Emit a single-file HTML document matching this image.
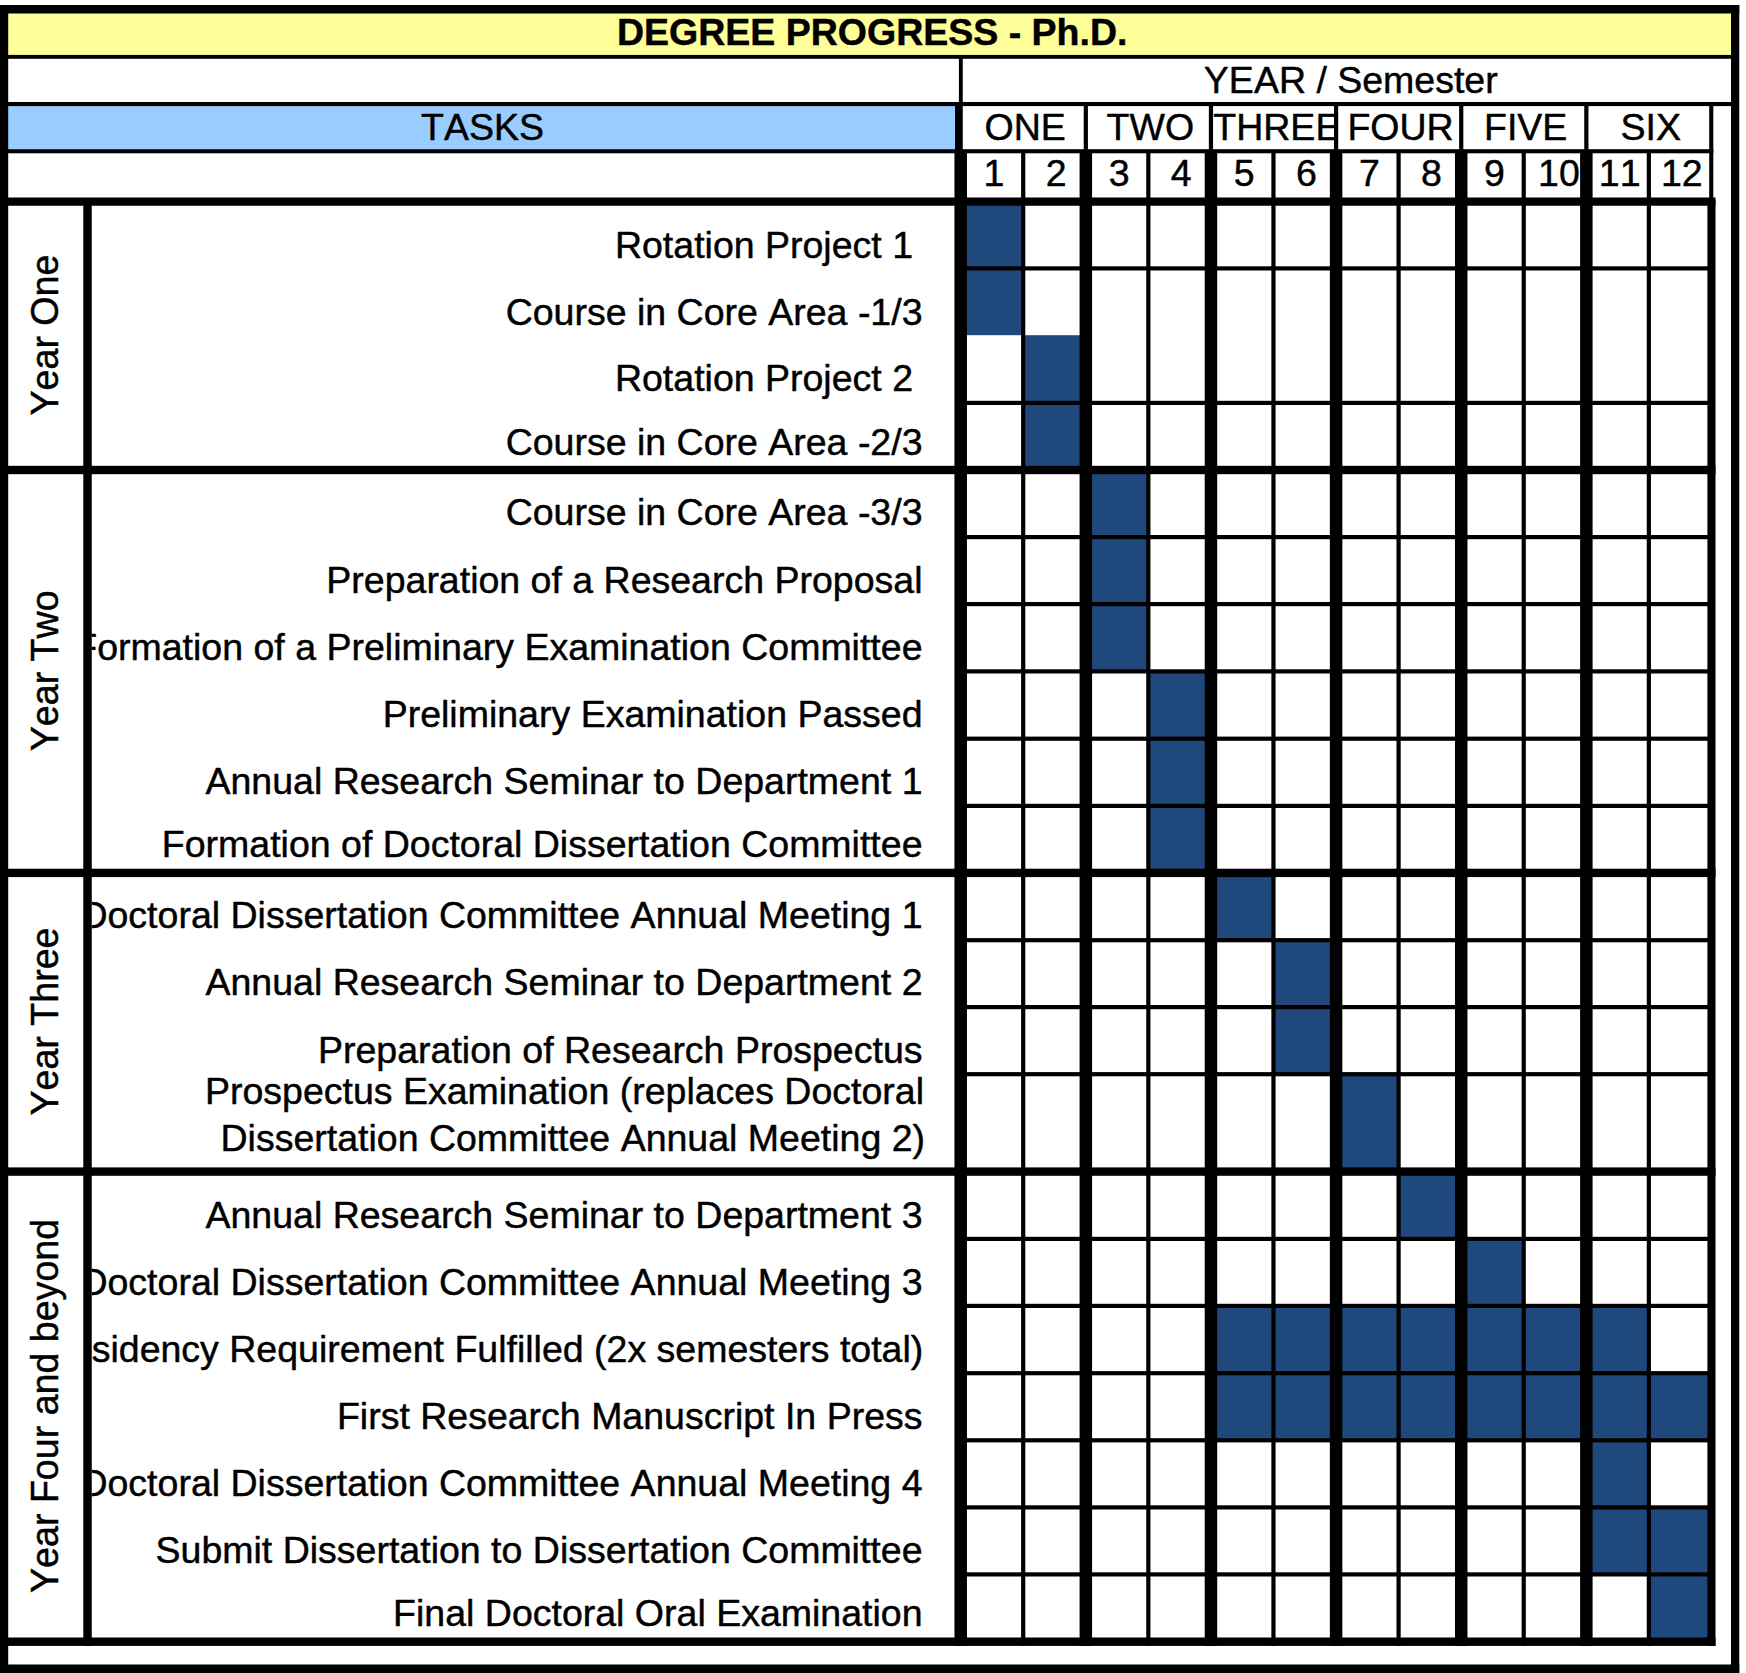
<!DOCTYPE html>
<html><head><meta charset="utf-8"><title>Degree Progress - Ph.D.</title>
<style>html,body{margin:0;padding:0;background:#fff}svg{display:block}</style></head>
<body><svg width="1746" height="1673" viewBox="0 0 1746 1673">
<rect width="1746" height="1673" fill="#fff"/>
<rect x="8.00" y="13.50" width="1723.00" height="41.50" fill="#FFFF99"/>
<rect x="8.00" y="106.00" width="947.00" height="43.20" fill="#99CCFF"/>
<rect x="965.95" y="201.60" width="56.15" height="66.80" fill="#1F497D"/>
<rect x="965.95" y="268.40" width="56.15" height="66.80" fill="#1F497D"/>
<rect x="1024.30" y="335.20" width="56.28" height="67.70" fill="#1F497D"/>
<rect x="1024.30" y="402.90" width="56.28" height="67.10" fill="#1F497D"/>
<rect x="1091.08" y="470.00" width="56.15" height="67.10" fill="#1F497D"/>
<rect x="1091.08" y="537.10" width="56.15" height="67.00" fill="#1F497D"/>
<rect x="1091.08" y="604.10" width="56.15" height="67.30" fill="#1F497D"/>
<rect x="1149.43" y="671.40" width="56.28" height="67.30" fill="#1F497D"/>
<rect x="1149.43" y="738.70" width="56.28" height="67.20" fill="#1F497D"/>
<rect x="1149.43" y="805.90" width="56.28" height="67.00" fill="#1F497D"/>
<rect x="1216.21" y="872.90" width="56.15" height="67.30" fill="#1F497D"/>
<rect x="1274.56" y="940.20" width="56.28" height="66.90" fill="#1F497D"/>
<rect x="1274.56" y="1007.10" width="56.28" height="67.10" fill="#1F497D"/>
<rect x="1341.34" y="1074.20" width="56.15" height="97.40" fill="#1F497D"/>
<rect x="1399.69" y="1171.60" width="56.28" height="67.30" fill="#1F497D"/>
<rect x="1466.47" y="1238.90" width="56.15" height="67.00" fill="#1F497D"/>
<rect x="1216.21" y="1305.90" width="56.15" height="67.30" fill="#1F497D"/>
<rect x="1274.56" y="1305.90" width="56.28" height="67.30" fill="#1F497D"/>
<rect x="1341.34" y="1305.90" width="56.15" height="67.30" fill="#1F497D"/>
<rect x="1399.69" y="1305.90" width="56.28" height="67.30" fill="#1F497D"/>
<rect x="1466.47" y="1305.90" width="56.15" height="67.30" fill="#1F497D"/>
<rect x="1524.82" y="1305.90" width="56.28" height="67.30" fill="#1F497D"/>
<rect x="1591.60" y="1305.90" width="56.15" height="67.30" fill="#1F497D"/>
<rect x="1216.21" y="1373.20" width="56.15" height="67.10" fill="#1F497D"/>
<rect x="1274.56" y="1373.20" width="56.28" height="67.10" fill="#1F497D"/>
<rect x="1341.34" y="1373.20" width="56.15" height="67.10" fill="#1F497D"/>
<rect x="1399.69" y="1373.20" width="56.28" height="67.10" fill="#1F497D"/>
<rect x="1466.47" y="1373.20" width="56.15" height="67.10" fill="#1F497D"/>
<rect x="1524.82" y="1373.20" width="56.28" height="67.10" fill="#1F497D"/>
<rect x="1591.60" y="1373.20" width="56.15" height="67.10" fill="#1F497D"/>
<rect x="1649.95" y="1373.20" width="60.05" height="67.10" fill="#1F497D"/>
<rect x="1591.60" y="1440.30" width="56.15" height="67.10" fill="#1F497D"/>
<rect x="1591.60" y="1507.40" width="56.15" height="67.00" fill="#1F497D"/>
<rect x="1649.95" y="1507.40" width="60.05" height="67.00" fill="#1F497D"/>
<rect x="1649.95" y="1574.40" width="60.05" height="67.30" fill="#1F497D"/>
<rect x="0.00" y="5.00" width="1739.25" height="8.50" fill="#000"/>
<rect x="0.00" y="5.00" width="8.20" height="1668.00" fill="#000"/>
<rect x="1731.00" y="5.00" width="8.25" height="1668.00" fill="#000"/>
<rect x="0.00" y="1664.50" width="1739.25" height="8.50" fill="#000"/>
<rect x="8.00" y="54.90" width="1723.00" height="3.90" fill="#000"/>
<rect x="8.00" y="102.00" width="1723.00" height="4.10" fill="#000"/>
<rect x="8.00" y="149.20" width="1705.30" height="4.10" fill="#000"/>
<rect x="8.00" y="197.50" width="1707.50" height="8.25" fill="#000"/>
<rect x="958.90" y="58.00" width="3.85" height="44.00" fill="#000"/>
<rect x="955.00" y="102.00" width="7.75" height="48.00" fill="#000"/>
<rect x="1083.73" y="104.00" width="4.20" height="46.00" fill="#000"/>
<rect x="1208.86" y="104.00" width="4.20" height="46.00" fill="#000"/>
<rect x="1333.99" y="104.00" width="4.20" height="46.00" fill="#000"/>
<rect x="1459.12" y="104.00" width="4.20" height="46.00" fill="#000"/>
<rect x="1584.25" y="104.00" width="4.20" height="46.00" fill="#000"/>
<rect x="1709.20" y="104.00" width="4.10" height="96.00" fill="#000"/>
<rect x="954.45" y="151.00" width="12.50" height="49.00" fill="#000"/>
<rect x="1021.10" y="151.00" width="4.20" height="49.00" fill="#000"/>
<rect x="1079.58" y="151.00" width="12.50" height="49.00" fill="#000"/>
<rect x="1146.23" y="151.00" width="4.20" height="49.00" fill="#000"/>
<rect x="1204.71" y="151.00" width="12.50" height="49.00" fill="#000"/>
<rect x="1271.36" y="151.00" width="4.20" height="49.00" fill="#000"/>
<rect x="1329.84" y="151.00" width="12.50" height="49.00" fill="#000"/>
<rect x="1396.49" y="151.00" width="4.20" height="49.00" fill="#000"/>
<rect x="1454.97" y="151.00" width="12.50" height="49.00" fill="#000"/>
<rect x="1521.62" y="151.00" width="4.20" height="49.00" fill="#000"/>
<rect x="1580.10" y="151.00" width="12.50" height="49.00" fill="#000"/>
<rect x="1646.75" y="151.00" width="4.20" height="49.00" fill="#000"/>
<rect x="83.30" y="200.00" width="8.45" height="1445.90" fill="#000"/>
<rect x="954.45" y="200.00" width="12.50" height="1445.90" fill="#000"/>
<rect x="1021.10" y="200.00" width="4.20" height="1445.90" fill="#000"/>
<rect x="1079.58" y="200.00" width="12.50" height="1445.90" fill="#000"/>
<rect x="1146.23" y="200.00" width="4.20" height="1445.90" fill="#000"/>
<rect x="1204.71" y="200.00" width="12.50" height="1445.90" fill="#000"/>
<rect x="1271.36" y="200.00" width="4.20" height="1445.90" fill="#000"/>
<rect x="1329.84" y="200.00" width="12.50" height="1445.90" fill="#000"/>
<rect x="1396.49" y="200.00" width="4.20" height="1445.90" fill="#000"/>
<rect x="1454.97" y="200.00" width="12.50" height="1445.90" fill="#000"/>
<rect x="1521.62" y="200.00" width="4.20" height="1445.90" fill="#000"/>
<rect x="1580.10" y="200.00" width="12.50" height="1445.90" fill="#000"/>
<rect x="1646.75" y="200.00" width="4.20" height="1445.90" fill="#000"/>
<rect x="1707.40" y="200.00" width="8.10" height="1445.90" fill="#000"/>
<rect x="960.00" y="266.30" width="752.00" height="4.20" fill="#000"/>
<rect x="960.00" y="400.80" width="752.00" height="4.20" fill="#000"/>
<rect x="8.00" y="465.80" width="1707.50" height="8.40" fill="#000"/>
<rect x="960.00" y="535.00" width="752.00" height="4.20" fill="#000"/>
<rect x="960.00" y="602.00" width="752.00" height="4.20" fill="#000"/>
<rect x="960.00" y="669.30" width="752.00" height="4.20" fill="#000"/>
<rect x="960.00" y="736.60" width="752.00" height="4.20" fill="#000"/>
<rect x="960.00" y="803.80" width="752.00" height="4.20" fill="#000"/>
<rect x="8.00" y="868.70" width="1707.50" height="8.40" fill="#000"/>
<rect x="960.00" y="938.10" width="752.00" height="4.20" fill="#000"/>
<rect x="960.00" y="1005.00" width="752.00" height="4.20" fill="#000"/>
<rect x="960.00" y="1072.10" width="752.00" height="4.20" fill="#000"/>
<rect x="8.00" y="1167.40" width="1707.50" height="8.40" fill="#000"/>
<rect x="960.00" y="1236.80" width="752.00" height="4.20" fill="#000"/>
<rect x="960.00" y="1303.80" width="752.00" height="4.20" fill="#000"/>
<rect x="960.00" y="1371.10" width="752.00" height="4.20" fill="#000"/>
<rect x="960.00" y="1438.20" width="752.00" height="4.20" fill="#000"/>
<rect x="960.00" y="1505.30" width="752.00" height="4.20" fill="#000"/>
<rect x="960.00" y="1572.30" width="752.00" height="4.20" fill="#000"/>
<rect x="8.00" y="1637.50" width="1707.50" height="8.40" fill="#000"/>
<g style="font-kerning:none" stroke="#000" stroke-width="0.45" stroke-linejoin="round" font-family="Liberation Sans, Arial, Helvetica, sans-serif" font-size="37.5" fill="#000">
<text x="872.20" y="45.10" text-anchor="middle" font-weight="bold">DEGREE PROGRESS - Ph.D.</text>
<text x="1350.80" y="93.30" text-anchor="middle" >YEAR / Semester</text>
<text x="482.50" y="140.00" text-anchor="middle" >TASKS</text>
<defs><clipPath id="c3"><rect x="1212.8" y="104" width="121.6" height="46"/></clipPath><clipPath id="ct"><rect x="91.75" y="200" width="863" height="1445"/></clipPath></defs>
<text x="1025.20" y="140.00" text-anchor="middle" >ONE</text>
<text x="1150.33" y="140.00" text-anchor="middle" >TWO</text>
<g clip-path="url(#c3)">
<text x="1213.30" y="140.00" text-anchor="start" >THREE</text>
</g>
<text x="1400.59" y="140.00" text-anchor="middle" >FOUR</text>
<text x="1525.72" y="140.00" text-anchor="middle" >FIVE</text>
<text x="1650.85" y="140.00" text-anchor="middle" >SIX</text>
<text x="994.03" y="186.00" text-anchor="middle" >1</text>
<text x="1056.14" y="186.00" text-anchor="middle" >2</text>
<text x="1119.15" y="186.00" text-anchor="middle" >3</text>
<text x="1181.27" y="186.00" text-anchor="middle" >4</text>
<text x="1244.29" y="186.00" text-anchor="middle" >5</text>
<text x="1306.40" y="186.00" text-anchor="middle" >6</text>
<text x="1369.42" y="186.00" text-anchor="middle" >7</text>
<text x="1431.53" y="186.00" text-anchor="middle" >8</text>
<text x="1494.55" y="186.00" text-anchor="middle" >9</text>
<text x="1558.96" y="186.00" text-anchor="middle" >10</text>
<text x="1619.67" y="186.00" text-anchor="middle" >11</text>
<text x="1681.79" y="186.00" text-anchor="middle" >12</text>
<g clip-path="url(#ct)">
<text x="913.00" y="257.55" text-anchor="end" >Rotation Project 1</text>
<text x="922.50" y="324.60" text-anchor="end" >Course in Core Area -1/3</text>
<text x="913.00" y="391.30" text-anchor="end" >Rotation Project 2</text>
<text x="922.50" y="454.75" text-anchor="end" >Course in Core Area -2/3</text>
<text x="922.50" y="525.10" text-anchor="end" >Course in Core Area -3/3</text>
<text x="922.50" y="593.10" text-anchor="end" >Preparation of a Research Proposal</text>
<text x="922.50" y="660.40" text-anchor="end" >Formation of a Preliminary Examination Committee</text>
<text x="922.50" y="727.10" text-anchor="end" >Preliminary Examination Passed</text>
<text x="922.50" y="794.20" text-anchor="end" >Annual Research Seminar to Department 1</text>
<text x="922.50" y="857.40" text-anchor="end" >Formation of Doctoral Dissertation Committee</text>
<text x="922.50" y="928.10" text-anchor="end" >Doctoral Dissertation Committee Annual Meeting 1</text>
<text x="922.50" y="995.30" text-anchor="end" >Annual Research Seminar to Department 2</text>
<text x="922.50" y="1063.40" text-anchor="end" >Preparation of Research Prospectus</text>
<text x="924.00" y="1104.30" text-anchor="end" >Prospectus Examination (replaces Doctoral</text>
<text x="925.00" y="1151.30" text-anchor="end" >Dissertation Committee Annual Meeting 2)</text>
<text x="922.50" y="1227.60" text-anchor="end" >Annual Research Seminar to Department 3</text>
<text x="922.50" y="1294.70" text-anchor="end" >Doctoral Dissertation Committee Annual Meeting 3</text>
<text x="923.30" y="1361.90" text-anchor="end" >Residency Requirement Fulfilled (2x semesters total)</text>
<text x="922.50" y="1428.60" text-anchor="end" >First Research Manuscript In Press</text>
<text x="922.50" y="1495.70" text-anchor="end" >Doctoral Dissertation Committee Annual Meeting 4</text>
<text x="922.50" y="1562.90" text-anchor="end" >Submit Dissertation to Dissertation Committee</text>
<text x="922.50" y="1625.50" text-anchor="end" >Final Doctoral Oral Examination</text>
</g>
<text transform="translate(57.9,335.05) rotate(-90) scale(1.003,1.04)" text-anchor="middle">Year One</text>
<text transform="translate(57.9,670.80) rotate(-90) scale(1.003,1.04)" text-anchor="middle">Year Two</text>
<text transform="translate(57.9,1021.55) rotate(-90) scale(1.003,1.04)" text-anchor="middle">Year Three</text>
<text transform="translate(57.9,1405.92) rotate(-90) scale(1.003,1.04)" text-anchor="middle">Year Four and beyond</text>
</g>
</svg></body></html>
